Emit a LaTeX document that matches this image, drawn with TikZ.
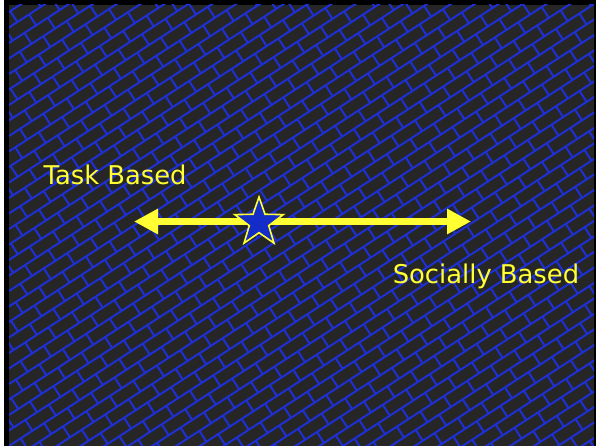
\documentclass[tikz,border=0pt]{standalone}
\usepackage{fontspec}
\setmainfont{DejaVu Sans}
\usetikzlibrary{arrows.meta}
\definecolor{bg}{RGB}{38,38,38}
\definecolor{brick}{RGB}{30,48,212}
\definecolor{ylw}{RGB}{255,255,51}
\definecolor{starblue}{RGB}{20,44,200}
\tikzset{
  lbl/.style={text=ylw, font=\fontsize{25.8}{30}\selectfont, inner sep=0pt, anchor=base west},
  brickline/.style={draw=brick, line width=2pt},
  dblarrow/.style={draw=ylw, line width=7.5pt, {Triangle[length=24pt,width=24pt]}-{Triangle[length=24pt,width=24pt]}},
  starstyle/.style={fill=starblue, draw=ylw, line width=1.6pt, line join=miter}
}
\begin{document}
\begin{tikzpicture}[x=1pt,y=1pt]
\useasboundingbox (0,0) rectangle (596,446);
\fill[white] (0,0) rectangle (596,446);
\fill[black] (4,0) rectangle (596,446);
\begin{scope}
  \clip (9,0) rectangle (594,441);
  \fill[bg] (9,0) rectangle (594,441);
  \begin{scope}[shift={(300,220)}, rotate=33]
    \foreach \k in {-30,...,30} {
      \pgfmathsetmacro\off{mod(\k+100,2)*14}
      \draw[brickline] (-380,\k*13) -- (380,\k*13)
        \foreach \j in {-14,...,14} { (\j*28+\off,\k*13) -- ++(0,13) };
    }
  \end{scope}
\end{scope}
\node[lbl] (task) at (43.3,261.7) {Task Based};
\node[lbl] (social) at (392.6,162.7) {Socially Based};
\coordinate (L) at (134,224.5);
\coordinate (R) at (471,224.5);
\draw[dblarrow] (L) -- (R);
\begin{scope}[shift={(259,223.5)}]
  \filldraw[starstyle] (90:25.5) -- (126:10.2) -- (162:25.5) -- (198:10.2) -- (234:25.5) -- (270:10.2) -- (306:25.5) -- (342:10.2) -- (18:25.5) -- (54:10.2) -- cycle;
\end{scope}
\end{tikzpicture}
\end{document}
